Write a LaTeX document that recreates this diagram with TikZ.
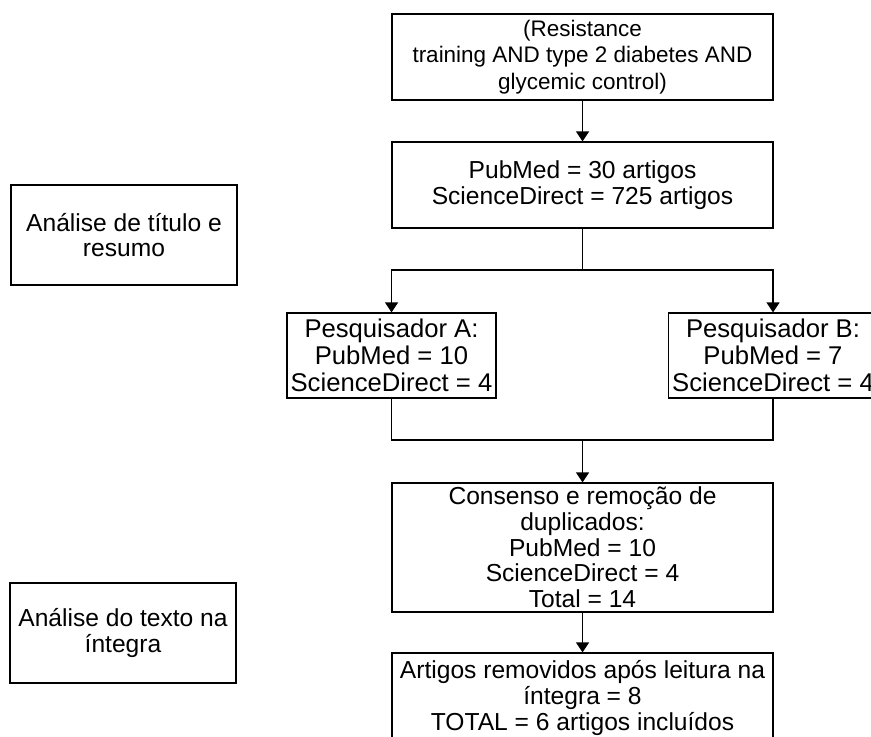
\documentclass[tikz,border=0pt]{standalone}
\usepackage{fontspec}
\setmainfont{Liberation Sans}
\usetikzlibrary{arrows.meta}

\begin{document}
\begin{tikzpicture}[x=0.02cm, y=-0.02cm, line width=0.7pt,
    every node/.style={draw, align=center, inner xsep=0pt, inner ysep=0pt,
        font=\fontsize{14}{14.6}\selectfont},
    seta/.style={-{Triangle[width=0.26cm, length=0.2cm]}}]
            \useasboundingbox (0,0) rectangle (871,736);

            % Main flow
            \node (busca) [minimum width=7.62cm, minimum height=1.72cm,
                font=\fontsize{12.8}{15.2}\selectfont] at (582.5,57)
                {(Resistance\\training AND type 2 diabetes AND\\glycemic control)};
            \node (bases) [minimum width=7.62cm, minimum height=1.72cm] at (582.5,185)
                {PubMed = 30 artigos\\ScienceDirect = 725 artigos};
            \node (pesqA) [minimum width=4.18cm, minimum height=1.7cm,
                font=\fontsize{14.6}{15.2}\selectfont] at (391.5,355.5)
                {Pesquisador A:\\PubMed = 10\\ScienceDirect = 4};
            \node (pesqB) [minimum width=4.18cm, minimum height=1.7cm,
                font=\fontsize{14.6}{15.2}\selectfont] at (773,355.5)
                {Pesquisador B:\\PubMed = 7\\ScienceDirect = 4};
            \node (consenso) [minimum width=7.62cm, minimum height=2.58cm] at (582.5,547.5)
                {Consenso e remoção de\\duplicados:\\PubMed = 10\\ScienceDirect = 4\\Total = 14};
            \node (final) [minimum width=7.62cm, minimum height=1.8cm] at (582.5,698)
                {Artigos removidos após leitura na\\íntegra = 8\\TOTAL = 6 artigos incluídos};

            % Phase labels
            \node (titulo) [minimum width=4.52cm, minimum height=2cm] at (124,235)
                {Análise de título e\\resumo};
            \node (integra) [minimum width=4.52cm, minimum height=2cm] at (123,633)
                {Análise do texto na\\íntegra};

            % Connect the boxes
            \coordinate (divide) at (582.5,270);
            \coordinate (junta) at (582.5,440);
            \draw[seta] (busca) -- (bases);
            \draw (bases) -- (divide);
            \draw[seta] (divide) -| (pesqA);
            \draw[seta] (divide) -| (pesqB);
            \draw (pesqA) |- (junta);
            \draw (pesqB) |- (junta);
            \draw[seta] (junta) -- (consenso);
            \draw[seta] (consenso) -- (final);

        \end{tikzpicture}
\end{document}
